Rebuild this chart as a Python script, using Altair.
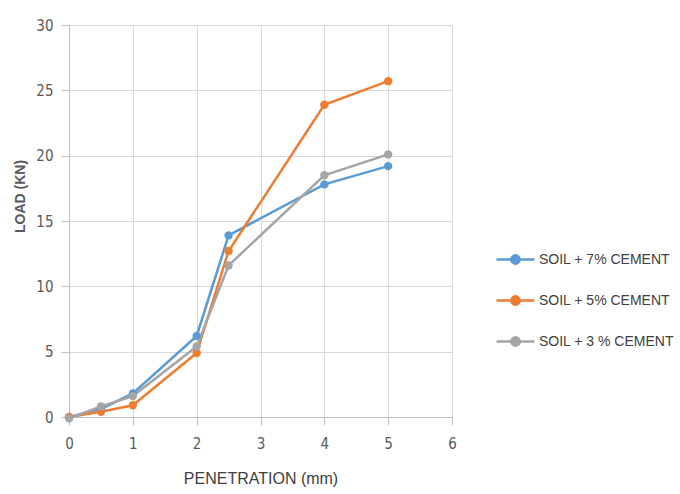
import altair as alt
import pandas as pd

penetration = [0, 0.5, 1, 2, 2.5, 4, 5]
load_7 = [0.0, 0.6, 1.8, 6.2, 13.9, 17.8, 19.2]
load_5 = [0.0, 0.4, 0.9, 4.9, 12.7, 23.9, 25.7]
load_3 = [-0.1, 0.8, 1.6, 5.4, 11.6, 18.5, 20.1]
series_names = ["SOIL + 7% CEMENT", "SOIL + 5% CEMENT", "SOIL + 3 % CEMENT"]
series_colors = ["#5B9BD5", "#ED7D31", "#A5A5A5"]

rows = []
for name, vals in zip(series_names, [load_7, load_5, load_3]):
    for x, y in zip(penetration, vals):
        rows.append({"pen": x, "load": y, "series": name})
df = pd.DataFrame(rows)

FONT = "DejaVu Sans Condensed, Liberation Sans Narrow, Liberation Sans, sans-serif"
legend_symbol = "M-1,0 L1,0 M-0.22,0 a0.22,0.22 0 1,0 0.44,0 a0.22,0.22 0 1,0 -0.44,0"

color = alt.Color(
    "series:N",
    sort=series_names,
    scale=alt.Scale(domain=series_names, range=series_colors),
    legend=alt.Legend(
        title=None,
        orient="none",
        legendX=426,
        legendY=214,
        symbolType=legend_symbol,
        symbolSize=1444,
        symbolStrokeWidth=2.5,
        labelFont="Liberation Sans, sans-serif",
        labelFontSize=14,
        labelColor="#404040",
        labelOffset=3,
        rowPadding=11,
    ),
)

x = alt.X(
    "pen:Q",
    scale=alt.Scale(domain=[0, 6], nice=False),
    axis=alt.Axis(
        values=[0, 1, 2, 3, 4, 5, 6],
        title="PENETRATION (mm)",
        titleFont="Liberation Sans, sans-serif",
        titleFontSize=16,
        titleFontWeight="normal",
        titleColor="#404040",
        titleY=61,
        titleBaseline="middle",
        labelFont=FONT,
        labelFontSize=15,
        labelColor="#595959",
        labelPadding=11,
        labelFlush=False,
        tickSize=8,
        tickColor="#BFBFBF",
        domainColor="#BFBFBF",
        gridColor="#D9D9D9",
    ),
)
y = alt.Y(
    "load:Q",
    scale=alt.Scale(domain=[0, 30], nice=False, clamp=False),
    axis=alt.Axis(
        values=[0, 5, 10, 15, 20, 25, 30],
        title="LOAD (KN)",
        titleFont="Liberation Sans, sans-serif",
        titleFontSize=14,
        titleFontWeight="bold",
        titleColor="#595959",
        titleX=-49,
        titleY=171,
        titleAngle=-90,
        titleAlign="center",
        titleBaseline="middle",
        labelFont=FONT,
        labelFontSize=15,
        labelColor="#595959",
        labelPadding=8,
        labelFlush=False,
        tickSize=8,
        tickColor="#BFBFBF",
        domainColor="#BFBFBF",
        gridColor="#D9D9D9",
    ),
)

lines = alt.Chart(df).mark_line(
    strokeWidth=2.5,
    clip=False,
    point=alt.OverlayMarkDef(filled=True, size=70, opacity=1),
).encode(x=x, y=y, color=color, order="pen:Q")

chart = lines.properties(
    width=383,
    height=392,
    autosize=alt.AutoSizeParams(type="none"),
    padding={"left": 69, "top": 25, "right": 228, "bottom": 77},
).configure_view(stroke=None).configure(background="white")

chart.save("out.html", embed_options={"renderer": "svg", "actions": False})
